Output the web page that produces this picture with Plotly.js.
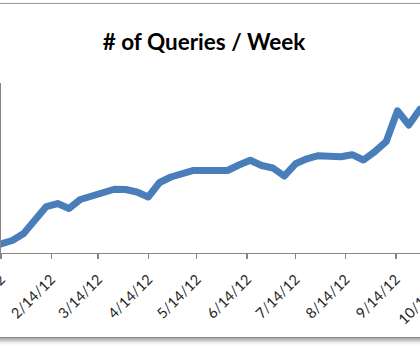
<!DOCTYPE html>
<html>
<head>
<meta charset="utf-8">
<script src="https://cdn.plot.ly/plotly-3.0.1.min.js"></script>
<style>
html,body{margin:0;padding:0;width:420px;height:351px;overflow:hidden;background:#fff;}
#frame{position:absolute;top:3px;left:-12px;width:444px;height:333px;border-top:1.3px solid #9a9a9a;border-bottom:1.3px solid #888;box-shadow:0 3px 4px rgba(0,0,0,0.35);background:#fff;}
#chart{position:absolute;top:0;left:0;width:480px;height:351px;}
path.js-line{stroke-linejoin:round;stroke-linecap:round;}
</style>
</head>
<body>
<div id="frame"></div>
<div id="chart"></div>
<script>
const weeks = ['2012-01-14','2012-01-21','2012-01-28','2012-02-04','2012-02-11','2012-02-18','2012-02-25',
  '2012-03-03','2012-03-10','2012-03-17','2012-03-24','2012-03-31','2012-04-07','2012-04-14','2012-04-21',
  '2012-04-28','2012-05-05','2012-05-12','2012-05-19','2012-05-26','2012-06-02','2012-06-09','2012-06-16',
  '2012-06-23','2012-06-30','2012-07-07','2012-07-14','2012-07-21','2012-07-28','2012-08-04','2012-08-11',
  '2012-08-18','2012-08-25','2012-09-01','2012-09-08','2012-09-15','2012-09-22','2012-09-29','2012-10-06'];
const queries = [185,257,402,679,957,1019,916,1101,1174,1266,1312,1307,1256,1153,1451,1565,1631,1699,1699,
  1709,1699,1812,1909,1801,1750,1585,1837,1940,2003,1991,1983,2024,1915,2086,2292,2928,2635,2965,2900];
const tickDates = ['2012-01-14','2012-02-14','2012-03-14','2012-04-14','2012-05-14','2012-06-14',
  '2012-07-14','2012-08-14','2012-09-14','2012-10-14'];
const tickLabels = ['1/14/12','2/14/12','3/14/12','4/14/12','5/14/12','6/14/12','7/14/12','8/14/12','9/14/12','10/14/12'];

const trace = {
  x: weeks, y: queries, type: 'scatter', mode: 'lines',
  line: {color: '#4a7ebb', width: 7},
  hoverinfo: 'skip'
};
const layout = {
  width: 480, height: 351,
  margin: {l: 1, r: 0, t: 83, b: 98},
  paper_bgcolor: 'rgba(0,0,0,0)', plot_bgcolor: 'rgba(0,0,0,0)',
  showlegend: false,
  title: {
    text: '# of Queries / Week',
    font: {family: 'Lato, "Open Sans", sans-serif', size: 22.5, color: '#000', weight: 'bold'},
    xref: 'container', x: 204/480, xanchor: 'center',
    yref: 'container', y: 1 - 42/351, yanchor: 'middle'
  },
  xaxis: {
    type: 'date', range: ['2012-01-14', '2012-11-05'],
    tickvals: tickDates, ticktext: tickLabels, tickangle: -45,
    ticks: 'outside', ticklen: 5, tickwidth: 1.3, tickcolor: '#868686',
    ticklabelstandoff: 6,
    showline: true, linecolor: '#868686', linewidth: 1.3,
    showgrid: false, zeroline: false,
    ticklabeloverflow: 'allow',
    tickfont: {family: 'Lato, "Open Sans", sans-serif', size: 14.5, color: '#262626'}
  },
  yaxis: {
    range: [0, 3500], showticklabels: false, ticks: '',
    showline: true, linecolor: '#868686', linewidth: 1.3,
    showgrid: false, zeroline: false
  }
};
Plotly.newPlot('chart', [trace], layout, {staticPlot: true, displayModeBar: false});
</script>
</body>
</html>
